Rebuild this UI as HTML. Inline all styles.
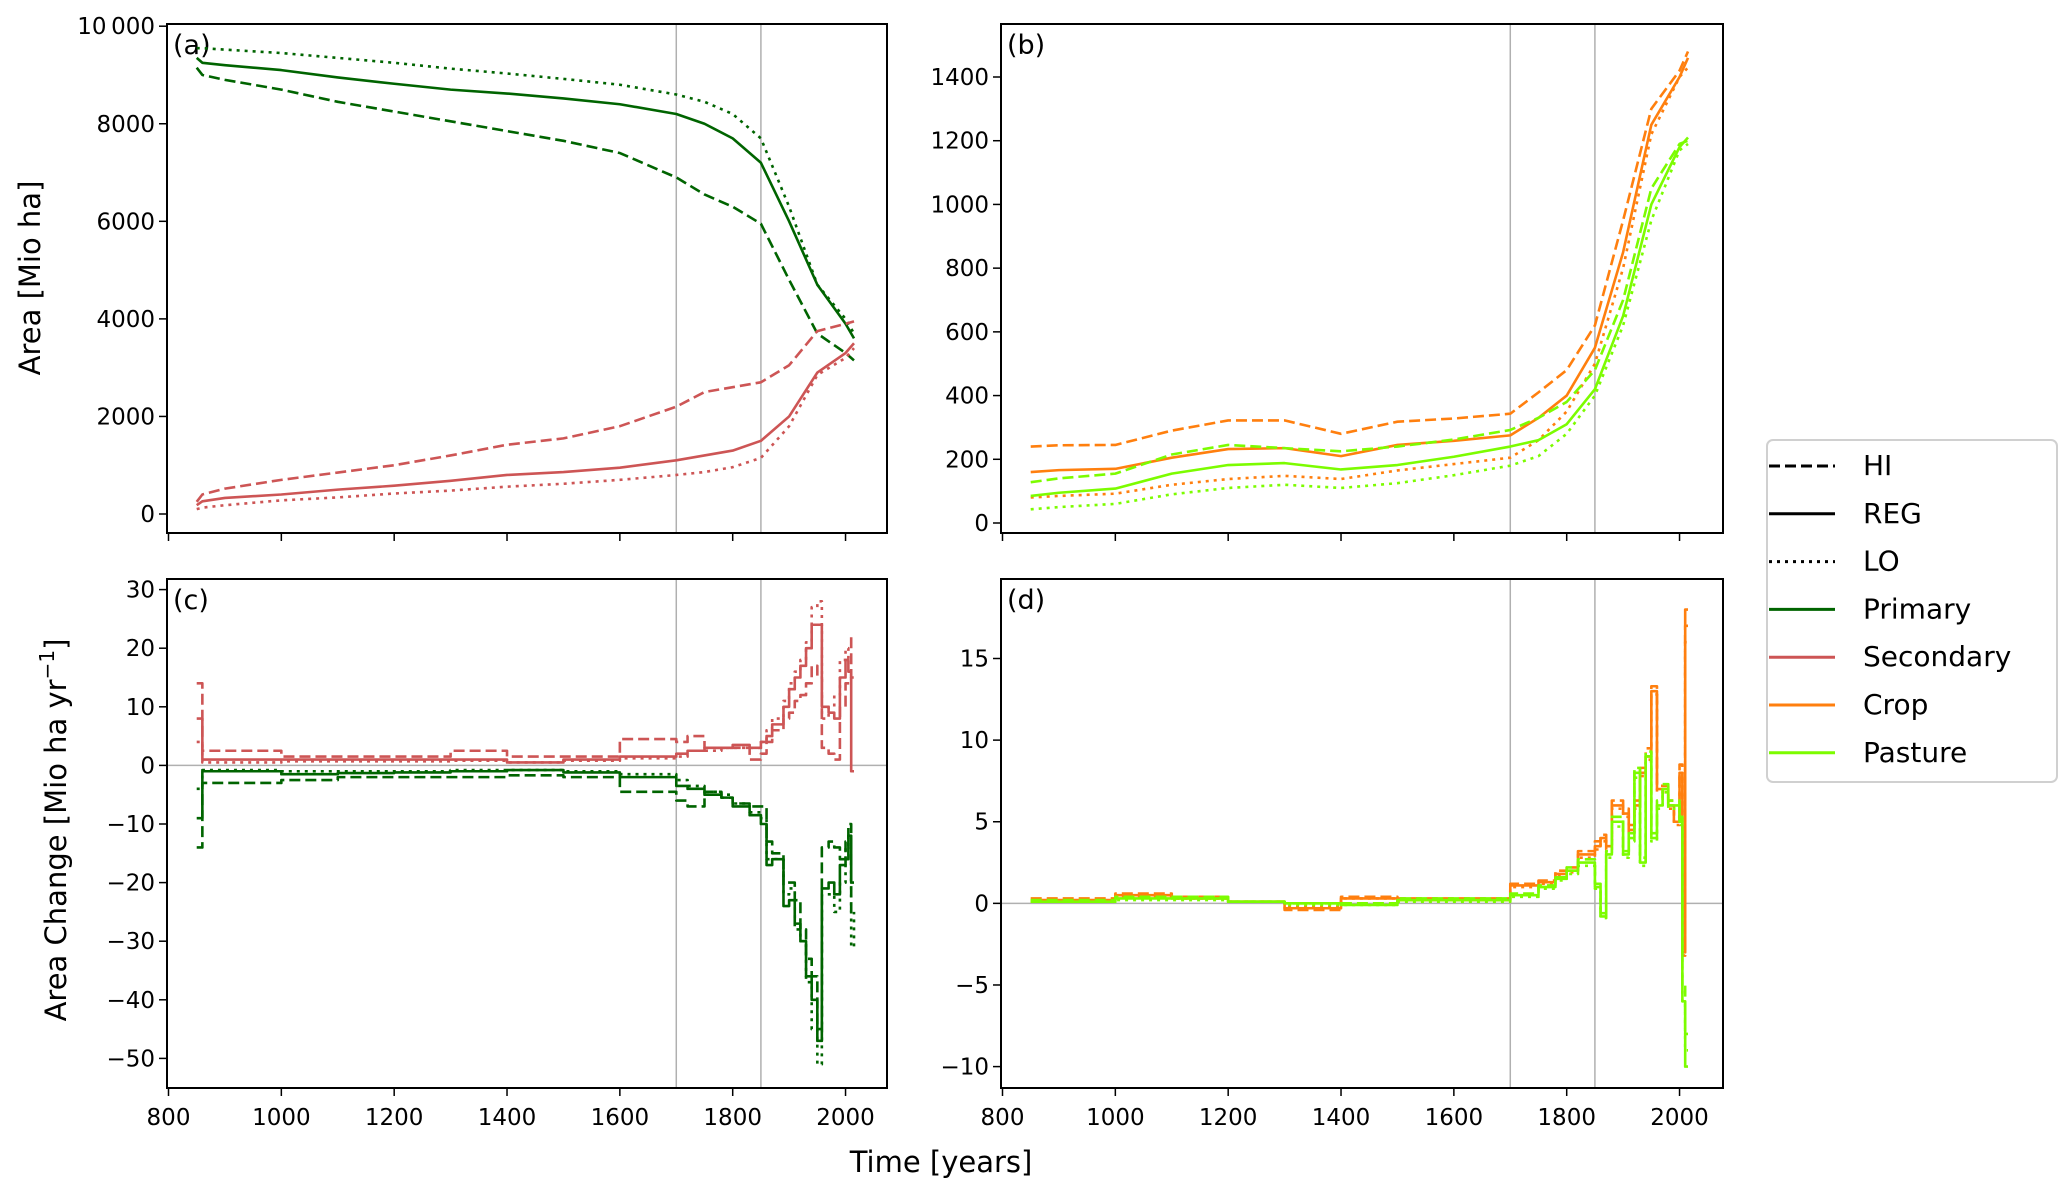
<!DOCTYPE html>
<html><head><meta charset="utf-8"><style>
html,body{margin:0;padding:0;background:#fff;}
svg{display:block;font-family:"DejaVu Sans","Liberation Sans",sans-serif;}
</style></head><body>
<svg id="fig" width="2067" height="1193" viewBox="0 0 2067 1193" xmlns="http://www.w3.org/2000/svg"></svg>
<script>
// ---- Data ----
const yearsA = [850,860,900,1000,1100,1200,1300,1400,1500,1600,1700,1750,1800,1850,1900,1950,2000,2015];
const primREG = [9350,9250,9200,9100,8950,8820,8700,8620,8520,8400,8200,8000,7700,7200,6000,4700,3900,3600];
const primHI  = [9150,9000,8900,8700,8450,8250,8050,7850,7650,7400,6900,6550,6300,5950,4800,3700,3300,3150];
const primLO  = [9550,9550,9520,9450,9350,9250,9130,9030,8920,8800,8600,8450,8200,7700,6300,4700,4000,3700];
const secREG  = [180,260,330,400,500,580,680,800,860,950,1100,1200,1300,1500,2000,2900,3300,3500];
const secHI   = [250,400,520,700,850,1000,1200,1420,1550,1800,2200,2500,2600,2700,3050,3750,3900,3950];
const secLO   = [100,130,180,280,340,420,480,560,620,700,800,860,960,1150,1800,2850,3200,3400];

const yearsB = [850,900,1000,1100,1200,1300,1400,1500,1600,1700,1750,1800,1850,1900,1950,2000,2015];
const cropHI  = [240,244,245,290,322,322,280,318,328,343,410,480,620,950,1300,1420,1480];
const cropREG = [160,166,170,205,232,235,210,245,258,275,330,400,550,850,1250,1400,1460];
const cropLO  = [80,85,92,120,138,148,138,165,185,205,260,350,500,800,1220,1400,1430];
const pastHI  = [128,140,155,215,245,235,225,240,262,292,330,380,480,700,1050,1190,1200];
const pastREG = [85,95,108,155,182,188,168,182,208,240,260,310,420,650,1000,1180,1210];
const pastLO  = [43,50,60,90,110,120,110,125,150,180,210,280,400,620,950,1170,1190];

const yearsC = [850,860,1000,1100,1200,1300,1400,1500,1600,1700,1720,1750,1780,1800,1830,1850,1860,1870,1890,1900,1910,1920,1930,1940,1950,1958,1970,1980,1990,2000,2005,2010,2015];
const dPrimREG = [-9,-1,-1.5,-1.3,-1.2,-1,-0.8,-1.2,-2,-3.5,-4,-5,-5.5,-7,-8.5,-10,-17,-16,-24,-23,-27,-30,-36,-40,-47,-21,-20,-22,-17,-16,-12,-20,-20];
const dPrimHI  = [-14,-3,-2.5,-2,-2,-2,-1.7,-2,-4.5,-6,-7,-4.5,-5.5,-6.5,-7,-7,-13,-15,-20,-20,-23,-28,-33,-36,-45,-14,-13,-14,-16,-13,-10,-25,-25];
const dPrimLO  = [-4,-0.8,-1,-1,-1,-0.8,-0.8,-1,-1.5,-2.5,-3.5,-4.5,-5,-6.5,-8,-9,-16,-16,-22,-21,-28,-30,-37,-45,-51,-22,-22,-25,-20,-14,-12,-31,-25];
const dSecREG  = [8,1,1,1,1,1,0.5,1,1.5,2,2.5,3,3,3.5,3,4,5,7,10,13,15,17,20,24,24,10,9,8,15,18,16,-1,-1];
const dSecHI   = [14,2.5,1.5,1.5,1.5,2.5,1.5,1.5,4.5,4,5,3,3,3,1,2,4,6,8,9,11,12,14,17,15,3,2,1,10,14,14,22,22];
const dSecLO   = [4,0.5,0.7,0.7,0.7,0.8,0.5,0.8,1.2,1.5,2.5,2.5,3,3,3,4,6,8,11,14,16,18,21,27,28,8,10,12,18,20,18,15,15];

const yearsD = [850,1000,1100,1200,1300,1400,1500,1600,1700,1750,1780,1800,1820,1850,1860,1870,1880,1900,1910,1920,1930,1940,1950,1960,1970,1980,1990,2000,2005,2010,2015];
const dCropREG = [0.2,0.5,0.3,0.1,-0.3,0.3,0.2,0.2,1.1,1.3,1.8,2,3,3.5,4,3.5,6,5.5,4.5,6,8,9,13,7,7,6,5,8,-3,18,18];
const dCropHI  = [0.3,0.6,0.4,0.1,-0.4,0.4,0.3,0.3,1.2,1.4,2,2.2,3.2,3.8,4.2,3.8,6.3,5.8,4.8,6.3,8.3,9.5,13.3,7.2,7.2,6.3,5.3,8.5,-3.2,17,17];
const dCropLO  = [0.1,0.4,0.3,0.1,-0.2,0.3,0.2,0.2,1.0,1.2,1.7,1.9,2.8,3.3,3.8,3.3,5.8,5.3,4.3,5.8,7.8,8.8,12.8,6.8,6.8,5.8,4.8,7.8,-2.8,16,16];
const dPastREG = [0.1,0.3,0.3,0.1,0,-0.1,0.2,0.2,0.5,1,1.5,2,2.5,1,-0.8,3,5,3,4,8,2.5,9,4,6,7,6,6,5,-6,-10,-10];
const dPastHI  = [0.2,0.4,0.4,0.1,0,0,0.3,0.3,0.6,1.1,1.6,2.2,2.7,1.2,-0.6,3.2,5.3,3.2,4.3,8.3,2.8,9.3,4.3,6.3,7.3,6.3,6.3,5.3,-5,-8,-8];
const dPastLO  = [0.1,0.2,0.2,0.1,-0.1,-0.1,0.1,0.1,0.4,0.9,1.4,1.8,2.3,0.9,-0.9,2.8,4.7,2.8,3.8,7.7,2.3,8.7,3.8,5.8,6.8,5.8,5.8,4.8,-6,-9,-9];

const xTicks = [800,1000,1200,1400,1600,1800,2000];
const ticksA = [0,2000,4000,6000,8000,10000];
const ticksB = [0,200,400,600,800,1000,1200,1400];
const ticksC = [-50,-40,-30,-20,-10,0,10,20,30];
const ticksD = [-10,-5,0,5,10,15];
const vLines = [1700,1850];

// ---- Drawing ----
const NS="http://www.w3.org/2000/svg";
const svg=document.getElementById('fig');
function el(tag,attrs,parent){const e=document.createElementNS(NS,tag);for(const k in attrs)e.setAttribute(k,attrs[k]);(parent||svg).appendChild(e);return e;}
const C={prim:'#006400',sec:'#cd5555',crop:'#ff7f0e',past:'#7cfc00'};
const DASH={HI:'11,5',REG:'',LO:'3,5'};
function fmt(v){let s=String(Math.abs(v));if(v===10000)s='10\u2009000';return (v<0?'\u2212':'')+s;}

function panel(name,box,xr,yr,yticks,letter,showX){
  const g=el('g',{});
  
  
  const X=v=>box.x0+(v-xr[0])/(xr[1]-xr[0])*(box.x1-box.x0);
  const Y=v=>box.y0+(yr[1]-v)/(yr[1]-yr[0])*(box.y1-box.y0);
  vLines.forEach(v=>{const l=el('line',{x1:X(v),x2:X(v),y1:box.y0,y2:box.y1,stroke:'#b0b0b0','stroke-width':1.5},g);});
  yticks.forEach(t=>{const y=Y(t);el('line',{x1:box.x0-8,x2:box.x0,y1:y,y2:y,stroke:'#000','stroke-width':1.5},g);
    const tx=el('text',{x:box.x0-12,y:y+8,'text-anchor':'end','font-size':23},g);tx.textContent=fmt(t);});
  xTicks.forEach(t=>{const x=X(t);el('line',{x1:x,x2:x,y1:box.y1,y2:box.y1+8,stroke:'#000','stroke-width':1.5},g);
    if(showX){const tx=el('text',{x:x,y:box.y1+37,'text-anchor':'middle','font-size':23},g);tx.textContent=t;}});
  const lb=el('text',{x:box.x0+6,y:box.y0+30,'font-size':27},g);lb.textContent=letter;
  return {g,X,Y,box};
}
function series(p,name,xs,ys,color,style,step){
  let d='';
  xs.forEach((x,i)=>{const px=p.X(x),py=p.Y(ys[i]);
    if(i===0)d+='M'+px+','+py;
    else if(step)d+='H'+px+'V'+py;
    else d+='L'+px+','+py;});
  const path=el('path',{d:d,fill:'none',stroke:color,'stroke-width':2.6,'stroke-dasharray':DASH[style],'stroke-linejoin':'round'},p.g);
  
  
}
function frame(p){const r=el('rect',{x:p.box.x0,y:p.box.y0,width:p.box.x1-p.box.x0,height:p.box.y1-p.box.y0,fill:'none',stroke:'#000','stroke-width':2},p.g);}

function mk(name,x0,x1,y0,y1,yr,yt,letter,showX){
  const ppy=0.5642, x800=x0+ (name.includes('a')||name.includes('c')?1.5:4.5);
  const xs=[800-(x800-x0)/ppy,800+(x1-x800)/ppy];
  return panel(name,{x0,x1,y0,y1},xs,yr,yt,letter,showX);
}
const pa=mk('panel-a',167,887,24,533,[0-(533-514)/0.04878,10000+(26.2-24)/0.04878],ticksA,'(a)',false);
series(pa,'primary-hi',yearsA,primHI,C.prim,'HI');
series(pa,'primary-reg',yearsA,primREG,C.prim,'REG');
series(pa,'primary-lo',yearsA,primLO,C.prim,'LO');
series(pa,'secondary-hi',yearsA,secHI,C.sec,'HI');
series(pa,'secondary-reg',yearsA,secREG,C.sec,'REG');
series(pa,'secondary-lo',yearsA,secLO,C.sec,'LO');
frame(pa);
const kb=(523-77)/1400;
const pb=mk('panel-b',1001,1723,24,533,[-(533-523)/kb,1400+(77-24)/kb],ticksB,'(b)',false);
series(pb,'crop-hi',yearsB,cropHI,C.crop,'HI');
series(pb,'crop-reg',yearsB,cropREG,C.crop,'REG');
series(pb,'crop-lo',yearsB,cropLO,C.crop,'LO');
series(pb,'pasture-hi',yearsB,pastHI,C.past,'HI');
series(pb,'pasture-reg',yearsB,pastREG,C.past,'REG');
series(pb,'pasture-lo',yearsB,pastLO,C.past,'LO');
frame(pb);
const kc=(1058.4-589.6)/80;
const pc=mk('panel-c',167,887,579,1088,[-50-(1088-1058.4)/kc,30+(589.6-579)/kc],ticksC,'(c)',true);
el('line',{x1:167,x2:887,y1:pc.Y(0),y2:pc.Y(0),stroke:'#b0b0b0','stroke-width':1.5},pc.g);
series(pc,'d-secondary-hi',yearsC,dSecHI,C.sec,'HI',true);
series(pc,'d-secondary-reg',yearsC,dSecREG,C.sec,'REG',true);
series(pc,'d-secondary-lo',yearsC,dSecLO,C.sec,'LO',true);
series(pc,'d-primary-hi',yearsC,dPrimHI,C.prim,'HI',true);
series(pc,'d-primary-reg',yearsC,dPrimREG,C.prim,'REG',true);
series(pc,'d-primary-lo',yearsC,dPrimLO,C.prim,'LO',true);
frame(pc);
const kd=(1066.6-658.5)/25;
const pd=mk('panel-d',1001,1723,579,1088,[-10-(1088-1066.6)/kd,15+(658.5-579)/kd],ticksD,'(d)',true);
el('line',{x1:1001,x2:1723,y1:pd.Y(0),y2:pd.Y(0),stroke:'#b0b0b0','stroke-width':1.5},pd.g);
series(pd,'d-crop-hi',yearsD,dCropHI,C.crop,'HI',true);
series(pd,'d-crop-reg',yearsD,dCropREG,C.crop,'REG',true);
series(pd,'d-crop-lo',yearsD,dCropLO,C.crop,'LO',true);
series(pd,'d-pasture-hi',yearsD,dPastHI,C.past,'HI',true);
series(pd,'d-pasture-reg',yearsD,dPastREG,C.past,'REG',true);
series(pd,'d-pasture-lo',yearsD,dPastLO,C.past,'LO',true);
frame(pd);

let t=el('text',{x:0,y:0,'font-size':29,'text-anchor':'middle',transform:'translate(40,278) rotate(-90)'});t.textContent='Area [Mio ha]';

t=el('text',{x:0,y:0,'font-size':29,'text-anchor':'middle',transform:'translate(66,830) rotate(-90)'});

t.innerHTML='Area Change [Mio ha yr<tspan dy="-12" font-size="20">\u22121</tspan><tspan dy="12">]</tspan>';
t=el('text',{x:941,y:1172,'font-size':29,'text-anchor':'middle'});t.textContent='Time [years]';


const lg=el('g',{});


el('rect',{x:1767,y:440,width:290,height:342,rx:6,fill:'#fff',stroke:'#d0d0d0','stroke-width':2},lg);
const legLabels=['HI','REG','LO','Primary','Secondary','Crop','Pasture'];
const legColors=['#000','#000','#000',C.prim,C.sec,C.crop,C.past];
const legDash=['11,5','','3,5','','','',''];
legLabels.forEach((s,i)=>{const y=466+i*47.8;
  const e=el('g',{},lg);
  
  
  el('line',{x1:1769,x2:1835,y1:y,y2:y,stroke:legColors[i],'stroke-width':3,'stroke-dasharray':legDash[i]},e);
  const tx=el('text',{x:1863,y:y+9,'font-size':28},e);tx.textContent=s;});
</script>
</body></html>
